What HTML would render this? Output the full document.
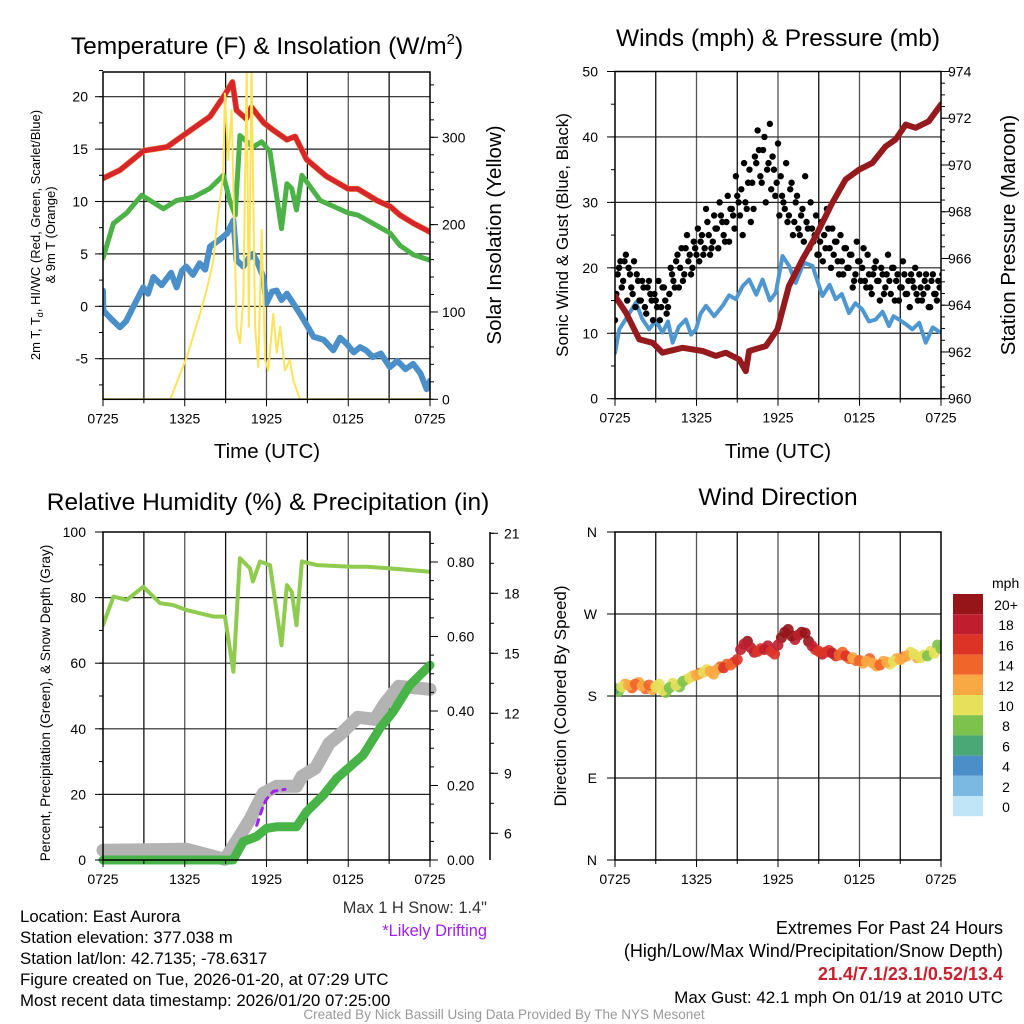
<!DOCTYPE html>
<html><head><meta charset="utf-8"><style>
html,body{margin:0;padding:0;background:#fff;}
svg{display:block;font-family:"Liberation Sans",sans-serif;}
</style></head><body>
<svg id="c" width="1024" height="1024" viewBox="0 0 1024 1024" xmlns="http://www.w3.org/2000/svg">
<g id="g"></g>
<g font-size="24.5" text-anchor="middle" fill="#000">
<text x="267" y="54">Temperature (F) &amp; Insolation (W/m<tspan font-size="15" dy="-10">2</tspan><tspan dy="10">)</tspan></text>
<text x="778" y="46">Winds (mph) &amp; Pressure (mb)</text>
<text x="268" y="510">Relative Humidity (%) &amp; Precipitation (in)</text>
<text x="778" y="505">Wind Direction</text>
</g>
<g font-size="20.5" text-anchor="middle">
<text x="267" y="458">Time (UTC)</text>
<text x="778" y="458">Time (UTC)</text>
<text transform="translate(501,235) rotate(-90)">Solar Insolation (Yellow)</text>
<text transform="translate(1015,235) rotate(-90)">Station Pressure (Maroon)</text>
</g>
<g font-size="13" text-anchor="middle">
<text transform="translate(40,235) rotate(-90)">2m T, T<tspan font-size="9" dy="3">d</tspan><tspan dy="-3">, HI/WC (Red, Green, Scarlet/Blue)</tspan></text>
<text transform="translate(55,235) rotate(-90)">&amp; 9m T (Orange)</text>
</g>
<g font-size="13.6" text-anchor="middle">
<text transform="translate(50,703) rotate(-90)">Percent, Precipitation (Green), &amp; Snow Depth (Gray)</text>
</g>
<g font-size="17" text-anchor="middle">
<text transform="translate(568,235) rotate(-90)">Sonic Wind &amp; Gust (Blue, Black)</text>
<text transform="translate(566,696) rotate(-90)">Direction (Colored By Speed)</text>
</g>
<g font-size="16.8" fill="#000">
<text x="20" y="922">Location: East Aurora</text>
<text x="20" y="943">Station elevation: 377.038 m</text>
<text x="20" y="964">Station lat/lon: 42.7135; -78.6317</text>
<text x="20" y="985">Figure created on Tue, 2026-01-20, at 07:29 UTC</text>
<text x="20" y="1006">Most recent data timestamp: 2026/01/20 07:25:00</text>
<text x="487" y="913" text-anchor="end" fill="#333" font-size="16.4">Max 1 H Snow: 1.4"</text>
<text x="487" y="936" text-anchor="end" fill="#a020f0" font-size="16.4">*Likely Drifting</text>
<text x="1003" y="934" text-anchor="end" font-size="18">Extremes For Past 24 Hours</text>
<text x="1003" y="957" text-anchor="end" font-size="18">(High/Low/Max Wind/Precipitation/Snow Depth)</text>
<text x="1003" y="980" text-anchor="end" fill="#c8202c" font-weight="bold" font-size="18">21.4/7.1/23.1/0.52/13.4</text>
<text x="1003" y="1003" text-anchor="end" font-size="17">Max Gust: 42.1 mph On 01/19 at 2010 UTC</text>
<text x="504" y="1019" text-anchor="middle" font-size="13.5" fill="#999">Created By Nick Bassill Using Data Provided By The NYS Mesonet</text>
</g>
</svg>
<script>
// ---- data ----
const timeLabels=["0725","1325","1925","0125","0725"];
const tempH=[0,1.25,3,4.7,6.1,7.85,8.95,9.5,9.8,10.5,10.9,11.8,12.5,13.5,14.1,14.95,16.4,18,18.7,20.1,21.1,21.8,22.8,24];
const tempV=[12.2,13.0,14.85,15.2,16.5,18.1,20.2,21.4,18.7,17.9,19.0,17.5,16.8,15.9,16.2,14.0,12.4,11.2,11.2,10.1,9.5,8.7,7.9,7.1];
const dewH=[0,0.76,1.74,2.84,4.43,5.4,6.63,7.85,8.83,9.3,9.7,10.05,11.0,11.65,12.26,13.1,13.5,13.85,14.2,14.6,15.95,18.0,18.7,21.06,21.8,22.8,24];
const dewV=[4.6,7.9,8.9,10.6,9.3,10.1,10.4,11.25,12.5,10.1,8.7,16.3,15.2,15.7,14.75,7.4,11.7,11.25,9.2,12.5,10.1,8.9,8.7,7.0,5.8,4.9,4.4];
const wcH=[0,0.02,0.6,1.25,1.7,2.2,2.96,3.3,3.7,4.3,5.0,5.4,5.8,6.1,6.6,7.1,7.5,7.85,8.5,9.1,9.57,9.8,10.3,10.7,11.0,11.4,11.76,12.0,12.4,12.75,13.1,13.5,14.0,14.45,15.0,15.45,16.2,16.9,17.4,17.9,18.4,18.87,19.3,19.8,20.4,21.06,21.6,22.2,22.77,23.3,23.75,24];
const wcV=[1.5,-0.4,-1.2,-2.0,-1.4,-0.1,1.8,1.2,2.8,2.0,3.2,1.8,3.4,3.8,3.0,4.1,3.5,5.7,6.3,6.95,8.2,4.4,3.8,4.6,5.0,4.0,2.8,0.3,1.4,1.5,0.6,1.2,0.2,-0.7,-1.9,-2.9,-3.2,-4.2,-3.0,-3.6,-4.4,-3.9,-4.2,-4.85,-4.5,-5.8,-5.2,-6.0,-5.5,-6.4,-7.9,-7.1];
const solH=[0,4.93,6.14,7.12,7.6,8.1,8.34,8.83,8.95,9.2,9.44,9.81,10.05,10.3,10.55,10.7,10.9,11.16,11.4,11.65,11.9,12.13,12.5,12.75,13.0,13.36,13.7,13.97,14.46,24];
const solV=[0,0,48,98,125,159,197,258,350,274,331,83,64,113,380,83,380,83,37,194,45,33,98,53,83,33,45,22,0,0];
const tempTicks=[-5,0,5,10,15,20];
const solTicks=[0,100,200,300];
const presH=[0,0.81,1.78,2.77,3.5,4.98,6.45,7.43,8.16,9.14,9.63,9.87,11.1,11.96,12.8,13.8,14.78,16.0,16.98,17.96,18.95,19.93,20.66,21.4,22.13,23.1,24];
const presV=[964.39,963.68,962.54,962.39,961.97,962.18,962.04,961.83,961.97,961.68,961.18,962.04,962.25,962.97,964.82,965.96,966.96,968.38,969.38,969.8,970.09,970.8,971.09,971.73,971.59,971.87,972.59];
const windH=[0,0.32,0.9,1.54,2.0,2.52,3.0,3.5,3.9,4.24,4.7,5.22,5.6,5.96,6.3,6.7,7.3,7.92,8.4,8.9,9.4,9.88,10.4,10.86,11.4,11.84,12.33,12.82,13.3,13.9,14.54,15.27,15.8,16.25,16.7,17.23,17.7,18.2,18.7,19.19,19.7,20.17,20.5,20.9,21.4,21.89,22.4,22.87,23.4,23.97];
const windV=[7.0,10.6,12.5,14.7,12.2,10.6,12.0,10.1,11.8,8.55,11.0,12.1,9.8,10.6,13.0,14.2,12.6,14.2,15.8,15.2,17.2,18.2,15.9,18.2,15.0,16.2,21.8,20.3,17.7,20.8,20.3,15.7,17.4,15.2,16.0,13.1,14.6,13.65,11.8,12.1,13.3,11.1,12.6,12.1,11.4,10.6,11.6,8.55,10.9,10.1];
const gustV=[12,19,21,18,22,20,17,21,19,15,18,14,17,16,12,15,18,14,17,13,16,19,17,22,20,18,23,21,19,24,22,21,25,23,27,22,24,26,23,28,25,27,24,29,26,31,28,25,30,33,27,29,36,38,33,40,35,42,37,31,39,34,30,36,28,33,27,31,25,29,34,26,30,24,28,22,27,25,29,23,26,24,21,25,19,23,20,22,18,24,21,20,18,22,17,19,21,18,20,16,19,18,20,15,19,17,21,16,18,19,17,16,19,15,18,17,14,19,16,18,17];
const gust2V=[16,20,17,21,15,19,16,14,18,15,17,13,18,15,16,14,12,17,15,14,20,18,21,17,23,19,25,22,20,23,26,24,22,29,25,23,28,26,30,27,24,31,29,28,34,30,32,36,29,35,33,37,41,34,38,30,36,32,35,33,28,31,29,27,32,25,30,26,28,24,27,23,26,25,22,24,21,23,26,20,22,24,19,21,23,20,22,17,19,21,18,23,17,19,16,20,18,15,19,17,22,16,20,18,15,17,19,16,14,18,20,15,17,16,19,14,18,16,15,17,19];
const windTicks=[0,10,20,30,40,50];
const presTicks=[960,962,964,966,968,970,972,974];
const rhH=[0,0.77,1.74,2.96,4.18,5.16,6.14,7.12,8.1,8.95,9.57,10.05,10.79,11.0,11.52,12.26,13.1,13.5,13.85,14.2,14.6,15.7,18.2,19.4,21.06,24];
const rhV=[71.6,80.3,79.3,83.3,78.3,77.7,76.2,75.2,74.2,74.2,57.4,92,88.9,84.9,91,89.9,65.5,83.8,81.8,71.6,91,89.9,89.4,89.4,88.9,87.9];
const prH=[0,9.55,10.29,11.27,12.0,12.75,14.2,14.95,16.17,17.15,19.1,20.33,21.3,22.53,24];
const prV=[0,0,0.049,0.063,0.085,0.089,0.089,0.13,0.174,0.219,0.282,0.354,0.398,0.47,0.523];
const snH=[0,6.14,8.95,9.88,10.79,11.76,12.75,14.2,14.6,15.6,16.6,17.5,18.7,19.95,20.7,21.7,24];
const snV=[5.15,5.2,4.7,5.7,6.7,8.0,8.35,8.35,8.85,9.27,10.5,11.0,11.8,11.7,12.5,13.35,13.2];
const drH=[11.28,11.77,12.0,12.5,13.36];
const drV=[6.4,7.4,7.7,8.1,8.2];
const rhTicks=[0,20,40,60,80,100];
const prTicks=[0,0.2,0.4,0.6,0.8];
const snTicks=[6,9,12,15,18,21];
const dirV=[188,190,192,193,191,192,190,186,189,192,196,200,203,206,207,209,211,214,220,237,233,229,231,229,236,250,246,247,249,235,229,228,227,225,224,222,219,218,216,214,217,218,220,224,226,222,224,227,232];
const dirSpd=[7,10,12,14,13,14,11,10,9,10,8,11,12,10,13,12,16,15,17,18,19,17,18,16,19,21,20,19,21,18,17,16,18,14,16,13,14,12,13,14,12,11,13,12,10,11,9,10,8];
const dir2V=[185,193,189,195,188,187,193,184,194,190,198,202,205,209,204,212,215,217,231,240,228,232,235,226,244,253,242,250,240,231,226,230,224,228,221,219,216,221,213,218,215,221,223,228,222,225,229,236];
const dir2Spd=[9,12,14,13,15,12,10,9,11,9,10,12,14,11,13,14,15,17,18,20,18,17,19,17,20,21,19,21,20,17,18,16,17,15,14,15,13,14,12,13,11,12,14,11,12,10,11,9];
const dirLabels=["N","E","S","W","N"];
const cbLabels=["20+","18","16","14","12","10","8","6","4","2","0"];
const cbColors=["#951519","#be1e2d","#dd3327","#f0652a","#f9a943","#e6e05a","#7dc24d","#4aa876","#4a8fc8","#7cb9e2","#bfe5f7"];

// ---- helpers ----
const NS="http://www.w3.org/2000/svg";
const G=document.getElementById('g');
function mk(tag,attrs,parent){const e=document.createElementNS(NS,tag);for(const k in attrs)e.setAttribute(k,attrs[k]);(parent||G).appendChild(e);return e;}
function lin(d0,d1,r0,r1){return v=>r0+(v-d0)/(d1-d0)*(r1-r0);}
function pathD(hs,vs,sx,sy){return hs.map((h,i)=>(i?'L':'M')+sx(h).toFixed(1)+','+sy(vs[i]).toFixed(1)).join('');}
function frame(P,name){
  const g=mk('g',{});
  
  
  const sx=lin(0,24,P.x0,P.x1);
  for(let h=3;h<24;h+=3){const l=mk('line',{x1:sx(h),x2:sx(h),y1:P.y0,y2:P.y1,stroke:h%6==0?'#555':'#111','stroke-width':1.3},g);
    }
  return g;
}
function xAxis(P,g){
  const sx=lin(0,24,P.x0,P.x1);
  for(let h=0;h<=24;h+=3){const l=mk('line',{x1:sx(h),x2:sx(h),y1:P.y1,y2:P.y1+(h%6==0?7:4),stroke:'#000','stroke-width':1},g);
    }
  timeLabels.forEach((t,i)=>{const e=mk('text',{x:sx(i*6),y:P.y1+24,'font-size':14,'text-anchor':'middle'},g);e.textContent=t;
    });
}
function hGrid(P,g,ticks,sy){ticks.forEach(v=>{const y=sy(v);if(y>P.y0+1&&y<P.y1-1){const l=mk('line',{x1:P.x0,x2:P.x1,y1:y,y2:y,stroke:'#222','stroke-width':1.2},g);
  }});}
function yTicks(g,x,dir,ticks,sy,minorStep,lo,hi,fmt,labelX,anchor,fs){
  for(let v=lo;v<=hi+1e-9;v+=minorStep){const y=sy(v);const l=mk('line',{x1:x,x2:x+dir*4,y1:y,y2:y,stroke:'#000','stroke-width':1},g);
    }
  ticks.forEach(v=>{const y=sy(v);const l=mk('line',{x1:x,x2:x+dir*8,y1:y,y2:y,stroke:'#000','stroke-width':1},g);
    
    const t=mk('text',{x:labelX,y:y+5,'font-size':fs||14,'text-anchor':anchor},g);t.textContent=fmt(v);
    });
}
function box(P,g){const r=mk('rect',{x:P.x0,y:P.y0,width:P.x1-P.x0,height:P.y1-P.y0,fill:'none',stroke:'#000','stroke-width':1.5},g);
  }
function clip(P,id){const d=mk('clipPath',{id:id});mk('rect',{x:P.x0,y:P.y0,width:P.x1-P.x0,height:P.y1-P.y0},d);return 'url(#'+id+')';}
function line(g,hs,vs,sx,sy,color,w,name,cp,extra){const p=mk('path',Object.assign({d:pathD(hs,vs,sx,sy),fill:'none',stroke:color,'stroke-width':w,'stroke-linejoin':'round','stroke-linecap':'round','clip-path':cp},extra||{}),g);
  return p;}

// ---- panel 1 ----
{const P={x0:103,x1:430,y0:72,y1:399.3};
 const g=frame(P,'temperature-panel');
 const sx=lin(0,24,P.x0,P.x1), sy=lin(0,20,306.3,96.7), sy2=lin(0,300,399.3,137.3);
 hGrid(P,g,tempTicks,sy);
 const cp=clip(P,'c1');
 line(g,wcH,wcV,sx,sy,'#4a8fc8',6,'wind-chill-line',cp);
 line(g,dewH,dewV,sx,sy,'#4cb147',5,'dewpoint-line',cp);
 line(g,tempH,tempV,sx,sy,'#f08a3a',6,'nine-meter-temp-line',cp);
 line(g,tempH,tempV,sx,sy,'#d7262b',5,'temperature-line',cp);
 line(g,solH,solV,sx,sy2,'#fde35a',2,'solar-insolation-line',cp);
 box(P,g);xAxis(P,g);
 yTicks(g,P.x0,-1,tempTicks,sy,2.5,-7.5,22.5,v=>String(v),P.x0-15,'end');
 yTicks(g,P.x1,1,solTicks,sy2,20,0,360,v=>String(v),P.x1+12,'start');
}
// ---- panel 2 ----
{const P={x0:615,x1:941,y0:71.5,y1:398.7};
 const g=frame(P,'winds-panel');
 const sx=lin(0,24,P.x0,P.x1), sy=lin(0,50,P.y1,P.y0), sy2=lin(960,974,P.y1,P.y0);
 hGrid(P,g,windTicks,sy);
 const cp=clip(P,'c2');
 line(g,windH,windV,sx,sy,'#4e97d1',4,'sonic-wind-line',cp);
 gustV.forEach((v,i)=>{const c=mk('circle',{cx:sx(i*0.2),cy:sy(v),r:3.2,fill:'#000','clip-path':cp},g);
   });
 gust2V.forEach((v,i)=>{const c=mk('circle',{cx:sx(i*0.2+0.1),cy:sy(v),r:3.2,fill:'#000','clip-path':cp},g);
   });
 line(g,presH,presV,sx,sy2,'#951a1d',6,'pressure-line',cp);
 box(P,g);xAxis(P,g);
 yTicks(g,P.x0,-1,windTicks,sy,5,0,50,v=>String(v),P.x0-17,'end');
 yTicks(g,P.x1,1,presTicks,sy2,0.5,960,974,v=>String(v),P.x1+7,'start');
}
// ---- panel 3 ----
{const P={x0:103,x1:430,y0:532,y1:860};
 const g=frame(P,'humidity-panel');
 const sx=lin(0,24,P.x0,P.x1), sy=lin(0,100,P.y1,P.y0), syp=lin(0,0.2,860,785.5), sys=lin(21,6,533.3,833.3);
 hGrid(P,g,rhTicks,sy);
 const cp=clip(P,'c3');
 line(g,snH,snV,sx,sys,'#b3b3b3',13,'snow-depth-line',null);
 line(g,drH,drV,sx,sys,'#a020f0',3,'drifting-snow-line',null,{'stroke-dasharray':'6,6'});
 line(g,prH,prV,sx,syp,'#48b448',9,'precipitation-line',null);
 line(g,rhH,rhV,sx,sy,'#8fcb4f',4,'relative-humidity-line',cp);
 box(P,g);xAxis(P,g);
 yTicks(g,P.x0,-1,rhTicks,sy,10,0,100,v=>String(v),P.x0-17,'end');
 yTicks(g,P.x1,1,prTicks,syp,0.05,0,0.85,v=>v.toFixed(2),P.x1+17,'start');
 const ax=mk('line',{x1:490,x2:490,y1:532,y2:860,stroke:'#000','stroke-width':1.5},g);
 
 yTicks(g,490,1,snTicks,sys,1.5,6,21,v=>String(v),504,'start');
}
// ---- panel 4 ----
{const P={x0:615,x1:941,y0:532,y1:860};
 const g=frame(P,'wind-direction-panel');
 const sx=lin(0,24,P.x0,P.x1), sy=lin(0,360,P.y1,P.y0);
 const dirTicks=[0,90,180,270,360];
 hGrid(P,g,dirTicks,sy);
 const cp=clip(P,'c4');
 const col=s=>cbColors[Math.max(0,Math.min(10,10-Math.floor(s/2)))];
 dir2V.forEach((d,i)=>{const c=mk('circle',{cx:sx(i*0.5+0.25),cy:sy(d),r:5.5,fill:col(dir2Spd[i]),'fill-opacity':0.9,'clip-path':cp},g);
   });
 dirV.forEach((d,i)=>{const c=mk('circle',{cx:sx(i*0.5),cy:sy(d),r:5.5,fill:col(dirSpd[i]),'fill-opacity':0.9,'clip-path':cp},g);
   });
 box(P,g);xAxis(P,g);
 dirTicks.forEach((v,i)=>{const y=sy(v);const l=mk('line',{x1:P.x0,x2:P.x0-8,y1:y,y2:y,stroke:'#000'},g);
   
   const t=mk('text',{x:P.x0-18,y:y+5,'font-size':14,'text-anchor':'end'},g);t.textContent=dirLabels[i];
   });
 const cb=mk('g',{},G);
 
 const t0=mk('text',{x:992,y:588,'font-size':14},cb);t0.textContent='mph';
 
 cbColors.forEach((c,i)=>{const r=mk('rect',{x:953,y:594+i*20.2,width:30,height:20.2,fill:c},cb);
   
   const t=mk('text',{x:1006,y:610+i*20.2,'font-size':14,'text-anchor':'middle'},cb);t.textContent=cbLabels[i];
   });
}
</script>
</body></html>
